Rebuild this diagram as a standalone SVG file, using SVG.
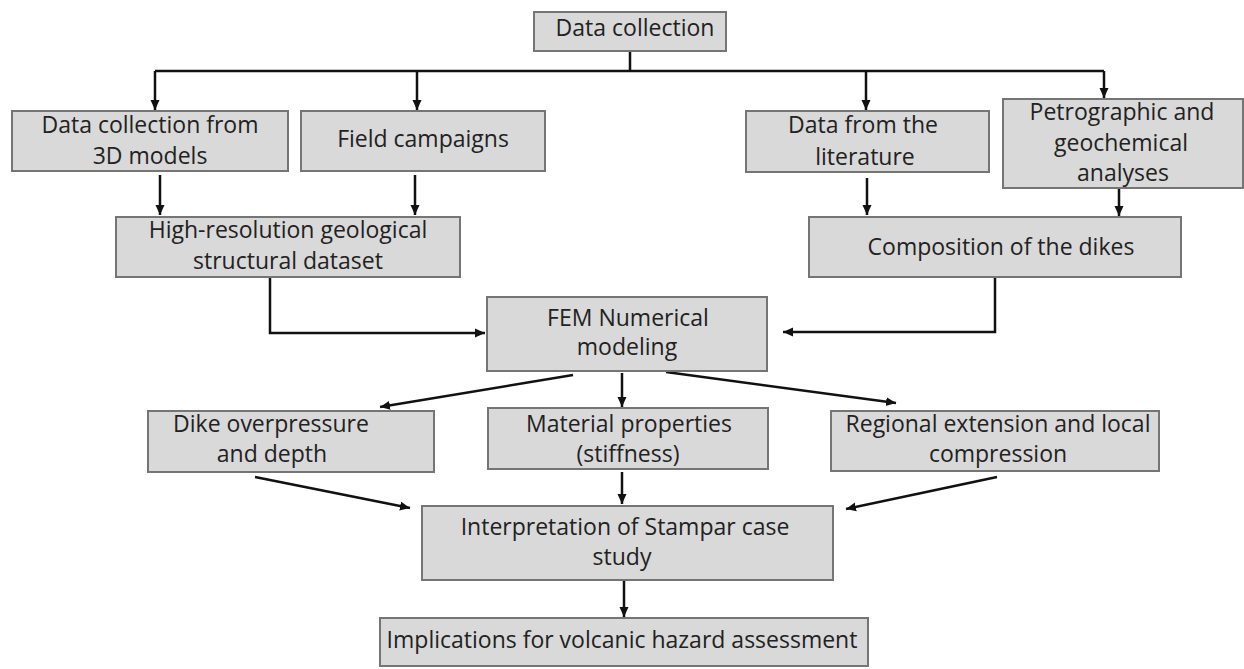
<svg xmlns="http://www.w3.org/2000/svg" width="1244" height="669" viewBox="0 0 1244 669">
<style>
.box{fill:#d9d9d9;stroke:#757575;stroke-width:2}
.t{font-family:"Open Sans","Liberation Sans",sans-serif;font-size:23px;fill:#222;text-anchor:middle}
.c{fill:none;stroke:#111;stroke-width:2.5}
.a{marker-end:url(#ah)}
</style>
<defs>
<marker id="ah" markerUnits="userSpaceOnUse" markerWidth="10" markerHeight="10" viewBox="0 0 10 10" refX="10" refY="5" orient="auto">
<path d="M0,0.5 L10,5 L0,9.5 z" fill="#111"/>
</marker>
</defs>
<rect width="1244" height="669" fill="#fff"/>
<g id="connectors">
<path class="c" d="M630,51 V71 M155,71 H1104"/>
<path class="c a" d="M155,71 V110"/>
<path class="c a" d="M417,71 V110"/>
<path class="c a" d="M866,71 V110"/>
<path class="c a" d="M1104,71 V98"/>
<path class="c a" d="M160,175 V215"/>
<path class="c a" d="M415,175 V215"/>
<path class="c a" d="M867,178 V215"/>
<path class="c a" d="M1119,188 V216"/>
<path class="c a" d="M270,277 V333 H485"/>
<path class="c a" d="M995,277 V332 H783"/>
<path class="c a" d="M573,375 L380,407"/>
<path class="c a" d="M622,373 V407"/>
<path class="c a" d="M666,372 L896,403"/>
<path class="c a" d="M255,477 L410,508"/>
<path class="c a" d="M622,472 V504"/>
<path class="c a" d="M997,477 L846,509"/>
<path class="c a" d="M624,580 V617"/>
</g>
<g id="n-data-collection">
<rect class="box" x="534" y="12" width="192" height="39"/>
<text class="t" x="635" y="36">Data collection</text>
</g>
<g id="n-3d-models">
<rect class="box" x="12" y="111" width="276" height="60"/>
<text class="t" x="150" y="133">Data collection from</text>
<text class="t" x="150" y="164">3D models</text>
</g>
<g id="n-field">
<rect class="box" x="301" y="111" width="244" height="60"/>
<text class="t" x="423" y="147">Field campaigns</text>
</g>
<g id="n-literature">
<rect class="box" x="746" y="111" width="243" height="61"/>
<text class="t" x="863" y="133">Data from the</text>
<text class="t" x="865" y="165">literature</text>
</g>
<g id="n-petro">
<rect class="box" x="1003" y="99" width="240" height="89"/>
<text class="t" x="1122" y="120">Petrographic and</text>
<text class="t" x="1121" y="151">geochemical</text>
<text class="t" x="1123" y="181">analyses</text>
</g>
<g id="n-highres">
<rect class="box" x="116" y="217" width="344" height="60"/>
<text class="t" x="288" y="238">High-resolution geological</text>
<text class="t" x="288" y="269">structural dataset</text>
</g>
<g id="n-composition">
<rect class="box" x="809" y="217" width="372" height="60"/>
<text class="t" x="1001" y="255">Composition of the dikes</text>
</g>
<g id="n-fem">
<rect class="box" x="487" y="297" width="280" height="74"/>
<text class="t" x="628" y="326">FEM Numerical</text>
<text class="t" x="627" y="355">modeling</text>
</g>
<g id="n-dike">
<rect class="box" x="148" y="411" width="286" height="61"/>
<text class="t" x="271" y="432">Dike overpressure</text>
<text class="t" x="272" y="462">and depth</text>
</g>
<g id="n-material">
<rect class="box" x="488" y="408" width="280" height="61"/>
<text class="t" x="629" y="432">Material properties</text>
<text class="t" x="628" y="462">(stiffness)</text>
</g>
<g id="n-regional">
<rect class="box" x="831" y="411" width="328" height="60"/>
<text class="t" x="998" y="432">Regional extension and local</text>
<text class="t" x="998" y="462">compression</text>
</g>
<g id="n-interpretation">
<rect class="box" x="422" y="506" width="411" height="74"/>
<text class="t" x="625" y="535">Interpretation of Stampar case</text>
<text class="t" x="622" y="565">study</text>
</g>
<g id="n-implications">
<rect class="box" x="380" y="618" width="488" height="48"/>
<text class="t" x="622" y="648">Implications for volcanic hazard assessment</text>
</g>
</svg>
